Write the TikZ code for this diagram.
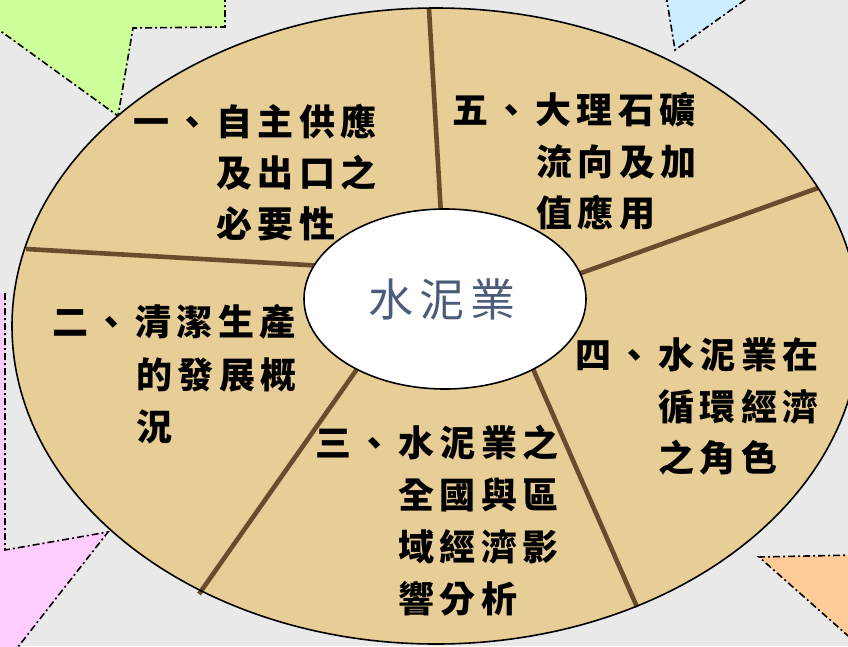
\documentclass[tikz,border=0pt]{standalone}
\usepackage{fontspec}
\newfontfamily\cjk{Noto Sans CJK TC}
\usetikzlibrary{shapes.geometric}
\definecolor{bgc}{RGB}{233,233,233}
\definecolor{tanc}{RGB}{231,205,150}
\definecolor{divc}{RGB}{105,75,45}
\definecolor{greenc}{RGB}{204,255,153}
\definecolor{bluec}{RGB}{204,236,255}
\definecolor{pinkc}{RGB}{255,204,255}
\definecolor{orangec}{RGB}{255,204,153}
\definecolor{hubtext}{RGB}{75,92,122}
\def\spc#1{\spci#1\relax}
\def\spci#1{\ifx#1\relax\else#1\kern5.5pt\expandafter\spci\fi}
\def\spch#1{\spchi#1\relax}
\def\spchi#1{\ifx#1\relax\else#1\kern6pt\expandafter\spchi\fi}
\tikzset{
  cornerline/.style={draw=black, line width=1.6pt, dash pattern=on 7pt off 3pt on 2pt off 3pt},
  divider/.style={draw=divc, line width=4.6pt},
  lbl/.style={anchor=west, inner sep=0pt, font=\cjk\bfseries\fontsize{36}{36}\selectfont, text=black},
  hubstyle/.style={ellipse, draw=black, line width=1.6pt, fill=white, minimum width=282pt, minimum height=180pt, inner sep=0pt, font=\cjk\fontsize{45}{45}\selectfont, text=hubtext},
}
\begin{document}
\begin{tikzpicture}[x=1pt,y=-1pt]
\useasboundingbox (0,0) rectangle (848,646);
\clip (0,0) rectangle (848,646);
\fill[bgc] (0,0) rectangle (848,646);
% corner shapes
\fill[greenc] (-5,-5) -- (225,-5) -- (225,27) -- (133,28) -- (118,116) -- (-5,28) -- cycle;
\draw[cornerline] (225,-5) -- (225,27) -- (133,28) -- (118,116) -- (-5,27);
\fill[bluec] (666,-5) -- (675,50) -- (752,-5) -- cycle;
\draw[cornerline] (666,-5) -- (675,50) -- (752,-5);
\fill[pinkc] (-5,293) -- (5,293) -- (5,550) -- (108,532) -- (14,652) -- (-5,652) -- cycle;
\draw[cornerline] (5,293) -- (5,550) -- (108,532) -- (14,652);
\fill[orangec] (759,557) -- (855,555) -- (855,642) -- cycle;
\draw[cornerline] (855,555) -- (759,557) -- (855,642);
% outer ellipse
\node[ellipse, fill=tanc, minimum width=848pt, minimum height=636pt, inner sep=0pt] (outer) at (436,326) {};
\coordinate (t1) at (429,9);
\coordinate (t2) at (818,188);
\coordinate (t3) at (637,607);
\coordinate (t4) at (199,594);
\coordinate (t5) at (26,249);
\coordinate (h1) at (441,215);
\coordinate (h2) at (570,277);
\coordinate (h3) at (530,362);
\coordinate (h4) at (362,362);
\coordinate (h5) at (325,266);
\draw[divider] (t1) -- (h1);
\draw[divider] (t2) -- (h2);
\draw[divider] (t3) -- (h3);
\draw[divider] (t4) -- (h4);
\draw[divider] (t5) -- (h5);
\draw[line width=1.6pt] (436,326) ellipse [x radius=424pt, y radius=318pt];
% hub
\node[hubstyle] (hub) at (445,299) {\raisebox{-4pt}{\spch{水泥業}}};
% labels
\node[lbl] (a1) at (133,122) {\spc{一、自主供應}};
\node[lbl] (a2) at (216,173) {\spc{及出口之}};
\node[lbl] (a3) at (216,224) {\spc{必要性}};
\node[lbl] (e1) at (452,110) {\spc{五、大理石礦}};
\node[lbl] (e2) at (536,162) {\spc{流向及加}};
\node[lbl] (e3) at (536,213) {\spc{值應用}};
\node[lbl] (b1) at (52,322) {\spc{二、清潔生產}};
\node[lbl] (b2) at (136,375) {\spc{的發展概}};
\node[lbl] (b3) at (136,427) {\spc{況}};
\node[lbl] (c1) at (315,443) {\spc{三、水泥業之}};
\node[lbl] (c2) at (398,495) {\spc{全國與區}};
\node[lbl] (c3) at (398,547) {\spc{域經濟影}};
\node[lbl] (c4) at (398,599) {\spc{響分析}};
\node[lbl] (d1) at (575,355) {\spc{四、水泥業在}};
\node[lbl] (d2) at (658,407) {\spc{循環經濟}};
\node[lbl] (d3) at (658,458) {\spc{之角色}};
\end{tikzpicture}
\end{document}
